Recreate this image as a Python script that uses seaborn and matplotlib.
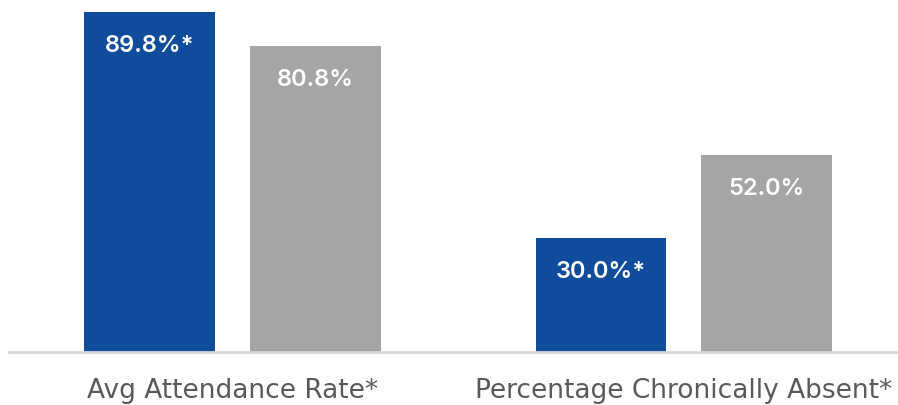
import matplotlib
matplotlib.use("Agg")
import matplotlib.pyplot as plt
import seaborn as sns
import pandas as pd

categories = ["Avg Attendance Rate*", "Percentage Chronically Absent*"]
school_values = [89.8, 30.0]
comparison_values = [80.8, 52.0]
school_labels = ["89.8%*", "30.0%*"]
comparison_labels = ["80.8%", "52.0%"]
series_names = ["School", "Comparison"]

df = pd.DataFrame({
    "category": categories * 2,
    "value": school_values + comparison_values,
    "series": [series_names[0]] * 2 + [series_names[1]] * 2,
    "label": school_labels + comparison_labels,
})

sns.set_style("white")
plt.rcParams["font.family"] = ["Inter", "DejaVu Sans"]

fig = plt.figure(figsize=(8.98, 4.05), dpi=100)
ax = fig.add_axes([9 / 898, (405 - 352) / 405, 1 - 9 / 898, 352 / 405])

sns.barplot(data=df, x="category", y="value", hue="series", hue_order=series_names,
            palette=["#0F4C9B", "#A5A5A5"], width=0.735, gap=0.211,
            linewidth=0, legend=False, ax=ax, saturation=1)

for container, labels in zip(ax.containers, [school_labels, comparison_labels]):
    for patch, lab in zip(container.patches, labels):
        ax.annotate(lab, (patch.get_x() + patch.get_width() / 2, patch.get_height()),
                    xytext=(0, -24.5), textcoords="offset points",
                    ha="center", va="center", color="white",
                    fontsize=17, fontweight="semibold")

ax.set_ylim(0, 93)
ax.set_xlim(-0.495, 1.474)
ax.set_yticks([])
ax.set_xlabel("")
ax.set_ylabel("")
for s in ["top", "left", "right"]:
    ax.spines[s].set_visible(False)
ax.spines["bottom"].set_color("#D9D9D9")
ax.spines["bottom"].set_linewidth(2)
ax.tick_params(axis="x", length=0, pad=18.5, labelsize=19, labelcolor="#595959")
for t in ax.get_xticklabels():
    t.set_fontfamily(["DejaVu Sans"])

fig.savefig("out.png", dpi=100)
